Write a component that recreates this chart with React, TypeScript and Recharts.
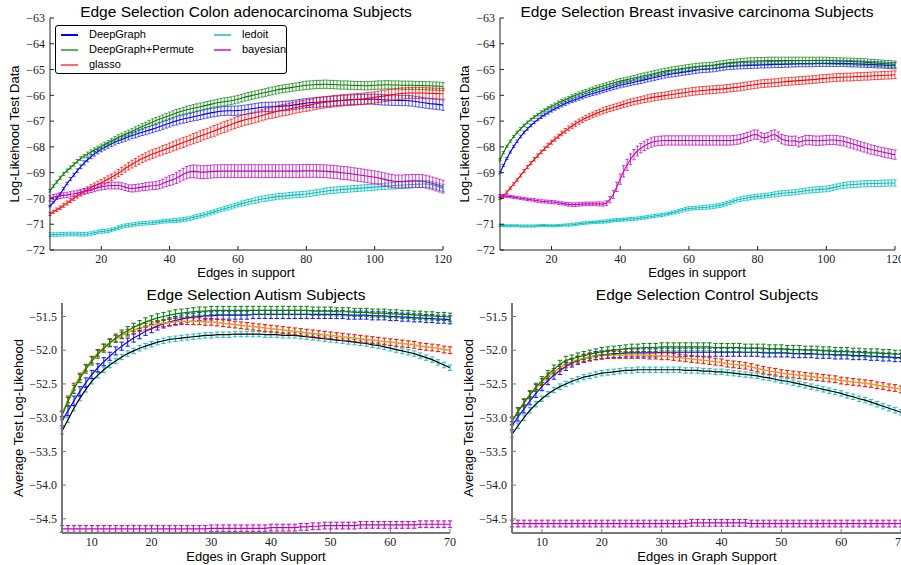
import React from 'react';
import { LineChart, Line, XAxis, YAxis, ErrorBar } from 'recharts';

// ---------- x categories ----------
const topX = [5,6,7,8,9,10,11,12,13,14,15,16,17,18,19,20,21,22,23,24,25,26,27,28,29,30,31,32,33,34,35,36,37,38,39,40,41,42,43,44,45,46,47,48,49,50,51,52,53,54,55,56,57,58,59,60,61,62,63,64,65,66,67,68,69,70,71,72,73,74,75,76,77,78,79,80,81,82,83,84,85,86,87,88,89,90,91,92,93,94,95,96,97,98,99,100,101,102,103,104,105,106,107,108,109,110,111,112,113,114,115,116,117,118,119,120];
const botX = [5,6,7,8,9,10,11,12,13,14,15,16,17,18,19,20,21,22,23,24,25,26,27,28,29,30,31,32,33,34,35,36,37,38,39,40,41,42,43,44,45,46,47,48,49,50,51,52,53,54,55,56,57,58,59,60,61,62,63,64,65,66,67,68,69,70];

const topXTicks = [20, 40, 60, 80, 100, 120];
const topYTicks = [-72, -71, -70, -69, -68, -67, -66, -65, -64, -63];
const botXTicks = [10, 20, 30, 40, 50, 60, 70];
const botYTicks = [-54.5, -54.0, -53.5, -53.0, -52.5, -52.0, -51.5];

const titles = ['Edge Selection Colon adenocarcinoma Subjects', 'Edge Selection Breast invasive carcinoma Subjects', 'Edge Selection Autism Subjects', 'Edge Selection Control Subjects'];
const legendNames = ['DeepGraph', 'DeepGraph+Permute', 'glasso', 'ledoit', 'bayesian'];

// ---------- Colon adenocarcinoma ----------
const colonBlue = [-70.30,-70.15,-70.00,-69.82,-69.62,-69.42,-69.25,-69.08,-68.92,-68.77,
-68.62,-68.50,-68.38,-68.27,-68.18,-68.10,-68.02,-67.95,-67.88,-67.82,
-67.76,-67.71,-67.66,-67.61,-67.56,-67.52,-67.47,-67.43,-67.39,-67.35,
-67.31,-67.27,-67.22,-67.17,-67.12,-67.08,-67.03,-66.99,-66.95,-66.92,
-66.89,-66.86,-66.83,-66.80,-66.77,-66.74,-66.71,-66.68,-66.66,-66.64,
-66.62,-66.61,-66.60,-66.60,-66.60,-66.59,-66.58,-66.56,-66.54,-66.52,
-66.50,-66.48,-66.46,-66.45,-66.45,-66.44,-66.44,-66.43,-66.42,-66.41,
-66.40,-66.38,-66.36,-66.34,-66.32,-66.30,-66.29,-66.28,-66.27,-66.26,
-66.25,-66.24,-66.23,-66.22,-66.21,-66.20,-66.19,-66.18,-66.17,-66.17,
-66.16,-66.16,-66.15,-66.15,-66.15,-66.15,-66.16,-66.17,-66.18,-66.18,
-66.19,-66.19,-66.20,-66.20,-66.20,-66.21,-66.22,-66.24,-66.26,-66.28,
-66.30,-66.32,-66.33,-66.34,-66.36,-66.38];
const colonBlueErr = [.03,.03,.04,.04,.05,.05,.06,.06,.07,.07,
.08,.08,.08,.09,.09,.09,.10,.10,.10,.11,
.11,.11,.12,.12,.12,.13,.13,.13,.14,.14,
.14,.14,.15,.15,.15,.15,.15,.16,.16,.16,
.16,.16,.16,.17,.17,.17,.17,.17,.17,.17,
.17,.17,.17,.18,.18,.18,.18,.18,.18,.18,
.18,.18,.18,.18,.18,.18,.18,.18,.18,.18,
.18,.18,.18,.18,.18,.18,.18,.18,.19,.19,
.19,.19,.19,.19,.19,.19,.19,.19,.19,.19,
.19,.19,.19,.19,.19,.20,.20,.20,.20,.20,
.20,.20,.20,.20,.20,.20,.20,.20,.20,.20,
.20,.20,.20,.20,.20,.20];
const colonGreen = [-69.70,-69.52,-69.36,-69.20,-69.05,-68.92,-68.80,-68.68,-68.56,-68.45,
-68.36,-68.28,-68.20,-68.12,-68.05,-67.98,-67.91,-67.84,-67.77,-67.70,
-67.63,-67.57,-67.51,-67.45,-67.39,-67.33,-67.27,-67.21,-67.15,-67.09,
-67.03,-66.98,-66.93,-66.88,-66.83,-66.78,-66.73,-66.68,-66.64,-66.60,
-66.56,-66.53,-66.50,-66.47,-66.44,-66.41,-66.38,-66.35,-66.32,-66.29,
-66.27,-66.25,-66.23,-66.21,-66.18,-66.15,-66.11,-66.07,-66.04,-66.01,
-65.98,-65.95,-65.92,-65.89,-65.86,-65.83,-65.80,-65.77,-65.75,-65.73,
-65.71,-65.69,-65.67,-65.65,-65.63,-65.61,-65.60,-65.59,-65.58,-65.58,
-65.57,-65.57,-65.58,-65.58,-65.59,-65.60,-65.60,-65.60,-65.61,-65.62,
-65.62,-65.62,-65.63,-65.63,-65.62,-65.61,-65.60,-65.60,-65.59,-65.59,
-65.60,-65.60,-65.60,-65.61,-65.61,-65.61,-65.61,-65.62,-65.62,-65.62,
-65.63,-65.63,-65.64,-65.64,-65.65,-65.66];
const colonGreenErr = [.05,.05,.05,.06,.06,.06,.06,.07,.07,.07,
.07,.08,.08,.08,.08,.09,.09,.09,.09,.10,
.10,.10,.10,.10,.11,.11,.11,.11,.11,.12,
.12,.12,.12,.12,.13,.13,.13,.13,.13,.13,
.14,.14,.14,.14,.14,.14,.14,.14,.14,.14,
.15,.15,.15,.15,.15,.15,.15,.15,.15,.15,
.15,.15,.15,.15,.15,.15,.15,.15,.15,.15,
.15,.15,.15,.15,.16,.16,.16,.16,.16,.16,
.16,.16,.16,.16,.16,.16,.16,.16,.16,.16,
.16,.16,.16,.16,.16,.16,.16,.16,.16,.16,
.16,.16,.16,.16,.16,.16,.16,.16,.16,.16,
.16,.16,.16,.16,.16,.16];
const colonRed = [-70.60,-70.52,-70.44,-70.36,-70.27,-70.18,-70.08,-69.99,-69.90,-69.81,
-69.72,-69.65,-69.58,-69.51,-69.45,-69.39,-69.32,-69.25,-69.18,-69.10,
-69.02,-68.93,-68.84,-68.75,-68.67,-68.60,-68.52,-68.45,-68.39,-68.33,
-68.28,-68.23,-68.18,-68.13,-68.08,-68.03,-67.98,-67.93,-67.88,-67.83,
-67.78,-67.73,-67.68,-67.63,-67.58,-67.53,-67.48,-67.43,-67.38,-67.33,
-67.28,-67.23,-67.18,-67.13,-67.08,-67.03,-66.99,-66.95,-66.92,-66.89,
-66.86,-66.82,-66.78,-66.74,-66.70,-66.67,-66.64,-66.61,-66.58,-66.56,
-66.53,-66.50,-66.47,-66.44,-66.42,-66.40,-66.38,-66.35,-66.32,-66.30,
-66.28,-66.26,-66.25,-66.23,-66.22,-66.20,-66.19,-66.18,-66.17,-66.16,
-66.15,-66.14,-66.13,-66.11,-66.10,-66.08,-66.06,-66.04,-66.02,-66.00,
-65.98,-65.96,-65.94,-65.93,-65.92,-65.91,-65.91,-65.91,-65.91,-65.91,
-65.92,-65.92,-65.93,-65.93,-65.94,-65.94];
const colonRedErr = [.06,.06,.07,.07,.08,.08,.08,.09,.09,.10,
.10,.10,.11,.11,.12,.12,.12,.13,.13,.13,
.14,.14,.14,.15,.15,.15,.16,.16,.16,.17,
.17,.17,.17,.18,.18,.18,.18,.19,.19,.19,
.19,.19,.20,.20,.20,.20,.20,.20,.21,.21,
.21,.21,.21,.21,.21,.21,.21,.21,.21,.21,
.21,.21,.21,.21,.21,.22,.22,.22,.22,.22,
.22,.22,.22,.22,.22,.22,.22,.22,.22,.22,
.22,.22,.22,.22,.22,.22,.22,.22,.22,.22,
.22,.22,.22,.22,.22,.22,.22,.22,.22,.22,
.22,.22,.22,.22,.21,.21,.21,.21,.21,.21,
.21,.21,.21,.21,.21,.21];
const colonCyan = [-71.40,-71.40,-71.40,-71.39,-71.39,-71.38,-71.38,-71.38,-71.38,-71.39,
-71.39,-71.38,-71.36,-71.33,-71.30,-71.28,-71.27,-71.25,-71.22,-71.18,
-71.13,-71.09,-71.06,-71.04,-71.02,-71.00,-70.98,-70.97,-70.96,-70.95,
-70.94,-70.93,-70.91,-70.89,-70.88,-70.87,-70.86,-70.85,-70.84,-70.82,
-70.80,-70.77,-70.73,-70.70,-70.67,-70.64,-70.60,-70.56,-70.52,-70.48,
-70.44,-70.40,-70.36,-70.32,-70.28,-70.24,-70.20,-70.17,-70.14,-70.11,
-70.08,-70.05,-70.02,-70.00,-69.98,-69.96,-69.94,-69.92,-69.91,-69.90,
-69.88,-69.87,-69.86,-69.85,-69.84,-69.83,-69.81,-69.79,-69.77,-69.75,
-69.73,-69.71,-69.69,-69.68,-69.67,-69.66,-69.65,-69.64,-69.63,-69.62,
-69.61,-69.60,-69.59,-69.58,-69.57,-69.56,-69.55,-69.54,-69.53,-69.52,
-69.51,-69.50,-69.49,-69.49,-69.48,-69.47,-69.46,-69.45,-69.45,-69.44,
-69.44,-69.45,-69.48,-69.52,-69.56,-69.60];
const colonCyanErr = [.07,.07,.07,.07,.07,.07,.07,.07,.07,.07,
.07,.07,.07,.07,.07,.07,.07,.07,.07,.07,
.07,.07,.07,.07,.07,.07,.07,.07,.07,.07,
.07,.07,.07,.07,.07,.07,.08,.08,.08,.08,
.08,.08,.08,.08,.08,.08,.08,.08,.08,.08,
.08,.08,.09,.09,.09,.09,.10,.10,.10,.10,
.11,.11,.11,.11,.11,.11,.11,.11,.11,.11,
.11,.11,.11,.11,.11,.11,.11,.11,.11,.11,
.12,.12,.12,.12,.12,.12,.12,.12,.12,.12,
.12,.12,.12,.12,.12,.12,.12,.12,.12,.12,
.13,.13,.13,.13,.13,.13,.13,.13,.13,.13,
.13,.13,.13,.13,.13,.13];
const colonMag = [-70.00,-69.95,-69.92,-69.90,-69.88,-69.86,-69.84,-69.82,-69.79,-69.76,
-69.73,-69.70,-69.66,-69.62,-69.58,-69.55,-69.53,-69.51,-69.50,-69.50,
-69.50,-69.52,-69.56,-69.60,-69.61,-69.60,-69.58,-69.56,-69.54,-69.52,
-69.51,-69.50,-69.47,-69.42,-69.36,-69.31,-69.27,-69.21,-69.14,-69.06,
-69.00,-68.96,-68.95,-68.96,-68.98,-68.98,-68.97,-68.96,-68.95,-68.95,
-68.94,-68.94,-68.94,-68.94,-68.94,-68.94,-68.94,-68.94,-68.94,-68.94,
-68.94,-68.94,-68.94,-68.94,-68.94,-68.94,-68.94,-68.94,-68.94,-68.94,
-68.94,-68.94,-68.94,-68.94,-68.93,-68.93,-68.93,-68.93,-68.93,-68.94,
-68.94,-68.95,-68.96,-68.97,-68.98,-69.00,-69.01,-69.02,-69.04,-69.06,
-69.08,-69.10,-69.12,-69.14,-69.16,-69.18,-69.20,-69.23,-69.26,-69.30,
-69.32,-69.34,-69.34,-69.34,-69.33,-69.33,-69.32,-69.32,-69.32,-69.33,
-69.35,-69.38,-69.42,-69.46,-69.50,-69.54];
const colonMagErr = [.10,.10,.10,.10,.10,.10,.10,.11,.11,.11,
.11,.11,.11,.12,.12,.12,.12,.12,.13,.13,
.13,.13,.13,.13,.14,.14,.14,.14,.15,.15,
.15,.15,.16,.17,.18,.19,.20,.21,.22,.23,
.24,.24,.25,.25,.25,.25,.25,.25,.25,.25,
.25,.25,.25,.25,.25,.25,.25,.25,.25,.25,
.25,.25,.25,.25,.25,.25,.25,.25,.25,.25,
.25,.25,.25,.25,.25,.25,.25,.25,.25,.25,
.25,.25,.25,.25,.25,.25,.25,.25,.25,.25,
.25,.25,.25,.25,.25,.25,.25,.25,.25,.25,
.25,.25,.25,.25,.25,.25,.25,.25,.25,.25,
.25,.25,.25,.25,.25,.25];

// ---------- Breast invasive carcinoma ----------
const breastBlue = [-69.00,-68.72,-68.45,-68.20,-67.98,-67.78,-67.60,-67.44,-67.30,-67.17,
-67.05,-66.94,-66.84,-66.75,-66.67,-66.59,-66.52,-66.45,-66.38,-66.32,
-66.26,-66.21,-66.16,-66.11,-66.06,-66.01,-65.97,-65.93,-65.89,-65.85,
-65.81,-65.77,-65.73,-65.69,-65.65,-65.61,-65.58,-65.55,-65.52,-65.49,
-65.46,-65.43,-65.40,-65.37,-65.34,-65.31,-65.28,-65.25,-65.22,-65.19,
-65.17,-65.15,-65.13,-65.11,-65.09,-65.07,-65.05,-65.03,-65.01,-65.00,
-64.99,-64.98,-64.97,-64.95,-64.93,-64.91,-64.89,-64.88,-64.87,-64.86,
-64.85,-64.85,-64.84,-64.84,-64.83,-64.83,-64.82,-64.82,-64.81,-64.81,
-64.80,-64.80,-64.80,-64.79,-64.79,-64.78,-64.78,-64.77,-64.77,-64.77,
-64.77,-64.77,-64.76,-64.76,-64.76,-64.76,-64.76,-64.76,-64.76,-64.76,
-64.76,-64.77,-64.77,-64.78,-64.78,-64.79,-64.79,-64.80,-64.80,-64.81,
-64.82,-64.82,-64.83,-64.84,-64.85,-64.85];
const breastBlueErr = [.04,.04,.04,.04,.04,.05,.05,.05,.05,.05,
.05,.05,.06,.06,.06,.06,.06,.07,.07,.07,
.07,.07,.07,.08,.08,.08,.08,.08,.09,.09,
.09,.09,.09,.09,.10,.10,.10,.10,.10,.10,
.11,.11,.11,.11,.11,.11,.11,.11,.11,.11,
.12,.12,.12,.12,.12,.12,.12,.12,.12,.12,
.12,.12,.12,.12,.12,.12,.12,.12,.12,.12,
.12,.12,.12,.12,.12,.12,.12,.12,.12,.12,
.12,.12,.12,.12,.12,.12,.12,.12,.12,.12,
.12,.12,.12,.12,.12,.12,.12,.12,.12,.12,
.12,.12,.12,.12,.12,.12,.12,.12,.12,.12,
.12,.12,.12,.12,.12,.12];
const breastGreen = [-68.50,-68.22,-67.98,-67.78,-67.60,-67.44,-67.30,-67.17,-67.05,-66.94,
-66.84,-66.75,-66.66,-66.58,-66.50,-66.43,-66.36,-66.29,-66.23,-66.17,
-66.11,-66.05,-66.00,-65.95,-65.90,-65.85,-65.80,-65.76,-65.72,-65.68,
-65.64,-65.60,-65.56,-65.52,-65.48,-65.45,-65.42,-65.39,-65.36,-65.33,
-65.30,-65.27,-65.24,-65.21,-65.18,-65.15,-65.12,-65.09,-65.06,-65.04,
-65.02,-65.00,-64.98,-64.96,-64.94,-64.92,-64.90,-64.88,-64.87,-64.86,
-64.85,-64.84,-64.83,-64.81,-64.79,-64.77,-64.75,-64.73,-64.72,-64.71,
-64.70,-64.69,-64.68,-64.67,-64.67,-64.66,-64.66,-64.66,-64.65,-64.65,
-64.65,-64.65,-64.65,-64.65,-64.65,-64.65,-64.65,-64.65,-64.65,-64.65,
-64.65,-64.65,-64.65,-64.65,-64.65,-64.65,-64.66,-64.66,-64.67,-64.67,
-64.68,-64.68,-64.69,-64.69,-64.70,-64.70,-64.71,-64.72,-64.73,-64.74,
-64.75,-64.76,-64.77,-64.78,-64.79,-64.80];
const breastGreenErr = [.04,.04,.04,.04,.04,.05,.05,.05,.05,.05,
.05,.05,.06,.06,.06,.06,.06,.07,.07,.07,
.07,.07,.07,.08,.08,.08,.08,.08,.09,.09,
.09,.09,.09,.09,.10,.10,.10,.10,.10,.10,
.11,.11,.11,.11,.11,.11,.11,.11,.11,.11,
.12,.12,.12,.12,.12,.12,.12,.12,.12,.12,
.12,.12,.12,.12,.12,.12,.12,.12,.12,.12,
.13,.13,.13,.13,.13,.13,.13,.13,.13,.13,
.13,.13,.13,.13,.13,.13,.13,.13,.13,.13,
.13,.13,.13,.13,.13,.13,.13,.13,.13,.13,
.13,.13,.13,.13,.13,.13,.13,.13,.13,.13,
.13,.13,.13,.13,.13,.13];
const breastRed = [-70.00,-69.90,-69.76,-69.60,-69.44,-69.28,-69.11,-68.94,-68.78,-68.63,
-68.48,-68.34,-68.20,-68.07,-67.94,-67.82,-67.70,-67.59,-67.48,-67.38,
-67.28,-67.19,-67.10,-67.02,-66.95,-66.88,-66.82,-66.76,-66.70,-66.65,
-66.60,-66.55,-66.51,-66.47,-66.43,-66.39,-66.35,-66.31,-66.27,-66.24,
-66.21,-66.18,-66.15,-66.12,-66.09,-66.07,-66.05,-66.03,-66.01,-65.99,
-65.97,-65.95,-65.93,-65.91,-65.89,-65.87,-65.85,-65.84,-65.82,-65.81,
-65.80,-65.79,-65.78,-65.77,-65.76,-65.75,-65.73,-65.72,-65.70,-65.69,
-65.67,-65.65,-65.63,-65.61,-65.59,-65.57,-65.55,-65.54,-65.53,-65.52,
-65.51,-65.50,-65.48,-65.47,-65.46,-65.45,-65.44,-65.43,-65.42,-65.41,
-65.40,-65.39,-65.38,-65.36,-65.35,-65.34,-65.33,-65.32,-65.31,-65.30,
-65.30,-65.29,-65.29,-65.28,-65.27,-65.27,-65.26,-65.26,-65.25,-65.24,
-65.24,-65.23,-65.22,-65.22,-65.21,-65.20];
const breastRedErr = [.04,.04,.05,.05,.05,.05,.06,.06,.06,.06,
.07,.07,.07,.07,.08,.08,.08,.08,.09,.09,
.09,.09,.10,.10,.10,.10,.11,.11,.11,.11,
.12,.12,.12,.12,.12,.12,.13,.13,.13,.13,
.13,.13,.13,.14,.14,.14,.14,.14,.14,.14,
.15,.15,.15,.15,.15,.15,.15,.15,.15,.15,
.15,.15,.15,.15,.15,.15,.15,.15,.15,.15,
.15,.15,.15,.15,.15,.15,.15,.15,.15,.15,
.15,.15,.15,.15,.15,.15,.15,.15,.15,.15,
.15,.15,.15,.15,.15,.15,.15,.15,.15,.15,
.15,.15,.15,.15,.15,.15,.15,.15,.15,.15,
.15,.15,.15,.15,.15,.15];
const breastCyan = [-71.05,-71.05,-71.06,-71.06,-71.06,-71.06,-71.07,-71.07,-71.07,-71.07,
-71.07,-71.06,-71.05,-71.05,-71.06,-71.06,-71.06,-71.05,-71.04,-71.03,
-71.03,-71.02,-71.00,-70.98,-70.96,-70.95,-70.94,-70.93,-70.92,-70.91,
-70.90,-70.89,-70.87,-70.85,-70.84,-70.83,-70.82,-70.81,-70.80,-70.79,
-70.78,-70.76,-70.74,-70.72,-70.70,-70.68,-70.66,-70.64,-70.62,-70.59,
-70.56,-70.53,-70.50,-70.46,-70.42,-70.39,-70.38,-70.37,-70.36,-70.35,
-70.34,-70.33,-70.31,-70.29,-70.27,-70.24,-70.20,-70.15,-70.10,-70.06,
-70.03,-70.00,-69.98,-69.96,-69.94,-69.92,-69.91,-69.90,-69.88,-69.86,
-69.84,-69.82,-69.80,-69.79,-69.78,-69.77,-69.76,-69.74,-69.72,-69.70,
-69.68,-69.67,-69.66,-69.65,-69.64,-69.63,-69.61,-69.58,-69.55,-69.52,
-69.50,-69.48,-69.47,-69.46,-69.45,-69.44,-69.43,-69.43,-69.42,-69.42,
-69.42,-69.41,-69.41,-69.40,-69.40,-69.40];
const breastCyanErr = [.04,.04,.04,.04,.04,.04,.04,.04,.04,.04,
.04,.04,.04,.04,.04,.04,.04,.04,.04,.04,
.05,.05,.05,.05,.05,.05,.05,.05,.05,.05,
.06,.06,.06,.06,.06,.06,.06,.06,.06,.06,
.06,.06,.06,.06,.06,.06,.06,.06,.06,.06,
.07,.07,.07,.07,.07,.07,.07,.07,.07,.07,
.08,.08,.08,.08,.08,.08,.08,.08,.08,.08,
.09,.09,.09,.09,.09,.09,.09,.09,.09,.09,
.10,.10,.10,.10,.10,.10,.10,.10,.10,.10,
.11,.11,.11,.11,.11,.11,.11,.11,.11,.11,
.12,.12,.12,.12,.12,.12,.12,.12,.12,.12,
.12,.12,.12,.12,.12,.12];
const breastMag = [-69.90,-69.90,-69.91,-69.93,-69.95,-69.97,-69.99,-70.01,-70.03,-70.05,
-70.07,-70.09,-70.11,-70.12,-70.13,-70.14,-70.15,-70.17,-70.19,-70.21,
-70.23,-70.24,-70.24,-70.23,-70.22,-70.21,-70.21,-70.21,-70.21,-70.21,
-70.22,-70.18,-70.05,-69.85,-69.55,-69.25,-68.95,-68.70,-68.48,-68.30,
-68.16,-68.05,-67.96,-67.89,-67.83,-67.79,-67.77,-67.76,-67.75,-67.75,
-67.75,-67.75,-67.75,-67.75,-67.75,-67.75,-67.75,-67.75,-67.75,-67.75,
-67.75,-67.75,-67.75,-67.75,-67.75,-67.75,-67.75,-67.75,-67.74,-67.72,
-67.70,-67.66,-67.62,-67.57,-67.52,-67.53,-67.62,-67.66,-67.62,-67.55,
-67.52,-67.60,-67.70,-67.74,-67.76,-67.77,-67.76,-67.82,-67.78,-67.74,
-67.74,-67.75,-67.76,-67.76,-67.75,-67.74,-67.73,-67.73,-67.74,-67.76,
-67.78,-67.82,-67.86,-67.90,-67.94,-67.98,-68.02,-68.06,-68.10,-68.13,
-68.16,-68.19,-68.22,-68.25,-68.28,-68.30];
const breastMagErr = [.05,.05,.05,.05,.05,.05,.05,.05,.05,.05,
.06,.06,.06,.06,.06,.06,.06,.06,.06,.06,
.07,.07,.07,.07,.07,.07,.07,.07,.07,.08,
.08,.09,.12,.15,.18,.20,.22,.22,.21,.20,
.19,.18,.18,.18,.18,.18,.18,.18,.18,.18,
.18,.18,.18,.18,.18,.18,.18,.18,.18,.18,
.18,.18,.18,.18,.18,.18,.18,.18,.18,.18,
.18,.18,.18,.18,.18,.18,.18,.18,.18,.18,
.18,.18,.18,.18,.18,.18,.18,.18,.18,.18,
.18,.18,.18,.18,.18,.18,.18,.18,.18,.18,
.18,.18,.18,.18,.18,.18,.18,.18,.18,.18,
.18,.18,.18,.18,.18,.18];

// ---------- Autism ----------
const autBlue = [-53.05,-52.90,-52.75,-52.61,-52.48,-52.36,-52.26,-52.17,-52.09,-52.01,
-51.94,-51.88,-51.82,-51.77,-51.72,-51.68,-51.64,-51.61,-51.58,-51.56,
-51.54,-51.52,-51.51,-51.50,-51.49,-51.49,-51.48,-51.48,-51.48,-51.48,
-51.48,-51.48,-51.47,-51.47,-51.47,-51.47,-51.47,-51.47,-51.47,-51.47,
-51.47,-51.47,-51.47,-51.47,-51.47,-51.47,-51.47,-51.47,-51.48,-51.48,
-51.48,-51.48,-51.49,-51.49,-51.49,-51.50,-51.50,-51.51,-51.51,-51.52,
-51.52,-51.53,-51.53,-51.54,-51.54,-51.55];
const autBlueErr = [.07,.07,.07,.07,.07,.06,.06,.06,.06,.06,
.06,.06,.06,.06,.06,.06,.06,.06,.06,.06,
.06,.06,.06,.06,.06,.06,.06,.06,.06,.06,
.06,.06,.06,.06,.06,.06,.06,.06,.06,.06,
.06,.06,.06,.06,.06,.06,.06,.06,.06,.06,
.06,.06,.06,.06,.06,.06,.06,.06,.06,.06,
.06,.06,.06,.06,.06,.06];
const autGreen = [-52.97,-52.76,-52.58,-52.42,-52.28,-52.16,-52.06,-51.97,-51.89,-51.82,
-51.76,-51.71,-51.66,-51.62,-51.58,-51.55,-51.52,-51.50,-51.48,-51.46,
-51.45,-51.44,-51.43,-51.42,-51.42,-51.41,-51.41,-51.41,-51.41,-51.41,
-51.41,-51.41,-51.41,-51.41,-51.41,-51.41,-51.41,-51.41,-51.41,-51.41,
-51.41,-51.41,-51.42,-51.42,-51.42,-51.42,-51.43,-51.43,-51.43,-51.44,
-51.44,-51.44,-51.45,-51.45,-51.45,-51.46,-51.46,-51.47,-51.47,-51.48,
-51.48,-51.49,-51.49,-51.50,-51.50,-51.51];
const autGreenErr = [.06,.06,.06,.06,.06,.06,.06,.06,.06,.06,
.06,.06,.06,.06,.06,.06,.06,.06,.06,.06,
.06,.06,.06,.06,.06,.06,.06,.06,.06,.06,
.06,.06,.06,.06,.06,.06,.06,.06,.06,.06,
.06,.06,.06,.06,.06,.06,.06,.06,.06,.06,
.06,.06,.06,.06,.06,.06,.06,.06,.06,.06,
.06,.06,.06,.06,.06,.06];
const autRed = [-52.95,-52.73,-52.54,-52.39,-52.26,-52.14,-52.04,-51.96,-51.89,-51.83,
-51.78,-51.74,-51.70,-51.67,-51.65,-51.63,-51.61,-51.60,-51.59,-51.58,
-51.57,-51.57,-51.57,-51.57,-51.58,-51.58,-51.59,-51.60,-51.61,-51.62,
-51.63,-51.64,-51.65,-51.66,-51.67,-51.68,-51.69,-51.70,-51.71,-51.72,
-51.73,-51.74,-51.75,-51.76,-51.77,-51.78,-51.79,-51.80,-51.81,-51.82,
-51.83,-51.84,-51.85,-51.86,-51.87,-51.88,-51.89,-51.90,-51.91,-51.92,
-51.94,-51.95,-51.96,-51.97,-51.99,-52.00];
const autRedErr = [.05,.05,.05,.05,.05,.05,.05,.05,.05,.05,
.05,.05,.05,.05,.05,.05,.05,.05,.05,.05,
.05,.05,.05,.05,.05,.05,.05,.05,.05,.05,
.05,.05,.05,.05,.05,.05,.05,.05,.05,.05,
.05,.05,.05,.05,.05,.05,.05,.05,.05,.05,
.05,.05,.05,.05,.05,.05,.05,.05,.05,.05,
.05,.05,.05,.05,.05,.05];
const autCyan = [-53.20,-53.03,-52.86,-52.71,-52.58,-52.46,-52.37,-52.29,-52.22,-52.16,
-52.10,-52.05,-52.01,-51.97,-51.94,-51.91,-51.88,-51.86,-51.84,-51.83,
-51.82,-51.81,-51.80,-51.79,-51.78,-51.78,-51.77,-51.77,-51.77,-51.76,
-51.76,-51.76,-51.76,-51.76,-51.77,-51.77,-51.77,-51.78,-51.78,-51.78,
-51.79,-51.80,-51.81,-51.82,-51.83,-51.84,-51.85,-51.86,-51.87,-51.88,
-51.89,-51.90,-51.92,-51.93,-51.95,-51.97,-51.99,-52.01,-52.03,-52.05,
-52.08,-52.11,-52.14,-52.18,-52.22,-52.26];
const autCyanErr = [.04,.04,.04,.04,.04,.04,.04,.04,.04,.04,
.04,.04,.04,.04,.04,.04,.04,.04,.04,.04,
.04,.04,.04,.04,.04,.04,.04,.04,.04,.04,
.04,.04,.04,.04,.04,.04,.04,.04,.04,.04,
.04,.04,.04,.04,.04,.04,.04,.04,.04,.04,
.04,.04,.04,.04,.04,.04,.04,.04,.04,.04,
.04,.04,.04,.04,.04,.04];
const autMag = [-54.65,-54.65,-54.65,-54.65,-54.65,-54.65,-54.65,-54.65,-54.65,-54.65,
-54.65,-54.65,-54.65,-54.65,-54.65,-54.65,-54.65,-54.65,-54.65,-54.65,
-54.65,-54.65,-54.65,-54.65,-54.65,-54.64,-54.64,-54.64,-54.64,-54.64,
-54.64,-54.64,-54.64,-54.64,-54.64,-54.63,-54.63,-54.63,-54.63,-54.63,
-54.62,-54.62,-54.61,-54.61,-54.60,-54.60,-54.60,-54.60,-54.60,-54.60,
-54.59,-54.59,-54.59,-54.59,-54.59,-54.59,-54.59,-54.59,-54.59,-54.59,
-54.58,-54.58,-54.58,-54.58,-54.58,-54.58];
const autMagErr = [.05,.05,.05,.05,.05,.05,.05,.05,.05,.05,
.05,.05,.05,.05,.05,.05,.05,.05,.05,.05,
.05,.05,.05,.05,.05,.05,.05,.05,.05,.05,
.05,.05,.05,.05,.05,.05,.05,.05,.05,.05,
.05,.05,.05,.05,.05,.05,.05,.05,.05,.05,
.05,.05,.05,.05,.05,.05,.05,.05,.05,.05,
.05,.05,.05,.05,.05,.05];

// ---------- Control ----------
const conBlue = [-53.12,-52.99,-52.87,-52.75,-52.64,-52.54,-52.45,-52.37,-52.30,-52.24,
-52.19,-52.15,-52.12,-52.10,-52.08,-52.07,-52.06,-52.05,-52.05,-52.04,
-52.04,-52.04,-52.04,-52.04,-52.04,-52.03,-52.03,-52.03,-52.03,-52.03,
-52.03,-52.03,-52.03,-52.03,-52.03,-52.03,-52.03,-52.03,-52.03,-52.03,
-52.03,-52.03,-52.04,-52.04,-52.04,-52.04,-52.04,-52.05,-52.05,-52.05,
-52.05,-52.06,-52.06,-52.06,-52.07,-52.07,-52.07,-52.08,-52.08,-52.08,
-52.09,-52.09,-52.10,-52.10,-52.11,-52.11];
const conBlueErr = [.06,.06,.06,.06,.06,.06,.06,.06,.06,.06,
.06,.06,.06,.06,.06,.06,.06,.06,.06,.06,
.06,.06,.06,.06,.06,.06,.06,.06,.06,.06,
.06,.06,.06,.06,.06,.06,.06,.06,.06,.06,
.06,.06,.06,.06,.06,.06,.06,.06,.06,.06,
.06,.06,.06,.06,.06,.06,.06,.06,.06,.06,
.06,.06,.06,.06,.06,.06];
const conGreen = [-53.05,-52.91,-52.78,-52.66,-52.55,-52.45,-52.36,-52.28,-52.21,-52.15,
-52.13,-52.10,-52.08,-52.06,-52.04,-52.02,-52.01,-52.00,-51.99,-51.98,
-51.97,-51.97,-51.96,-51.96,-51.96,-51.95,-51.95,-51.95,-51.95,-51.95,
-51.95,-51.95,-51.95,-51.95,-51.96,-51.96,-51.96,-51.96,-51.96,-51.97,
-51.97,-51.97,-51.97,-51.98,-51.98,-51.98,-51.99,-51.99,-51.99,-52.00,
-52.00,-52.00,-52.01,-52.01,-52.02,-52.02,-52.02,-52.03,-52.03,-52.04,
-52.04,-52.04,-52.05,-52.05,-52.06,-52.06];
const conGreenErr = [.06,.06,.06,.06,.06,.06,.06,.06,.06,.06,
.06,.06,.06,.06,.06,.06,.06,.06,.06,.06,
.06,.06,.06,.06,.06,.06,.06,.06,.06,.06,
.06,.06,.06,.06,.06,.06,.06,.06,.06,.06,
.06,.06,.06,.06,.06,.06,.06,.06,.06,.06,
.06,.06,.06,.06,.06,.06,.06,.06,.06,.06,
.06,.06,.06,.06,.06,.06];
const conRed = [-53.05,-52.91,-52.78,-52.66,-52.56,-52.47,-52.39,-52.32,-52.26,-52.21,
-52.17,-52.14,-52.12,-52.10,-52.09,-52.08,-52.07,-52.07,-52.07,-52.07,
-52.07,-52.07,-52.07,-52.08,-52.08,-52.09,-52.09,-52.10,-52.11,-52.12,
-52.13,-52.14,-52.15,-52.16,-52.17,-52.18,-52.20,-52.21,-52.22,-52.23,
-52.25,-52.27,-52.29,-52.31,-52.32,-52.34,-52.35,-52.36,-52.37,-52.38,
-52.39,-52.40,-52.41,-52.42,-52.43,-52.45,-52.46,-52.47,-52.48,-52.49,
-52.50,-52.52,-52.53,-52.55,-52.56,-52.58];
const conRedErr = [.05,.05,.05,.05,.05,.05,.05,.05,.05,.05,
.05,.05,.05,.05,.05,.05,.05,.05,.05,.05,
.05,.05,.05,.05,.05,.05,.05,.05,.05,.05,
.05,.05,.05,.05,.05,.05,.05,.05,.05,.05,
.05,.05,.05,.05,.05,.05,.05,.05,.05,.05,
.05,.05,.05,.05,.05,.05,.05,.05,.05,.05,
.05,.05,.05,.05,.05,.05];
const conCyan = [-53.25,-53.12,-53.00,-52.89,-52.80,-52.72,-52.65,-52.59,-52.54,-52.50,
-52.46,-52.43,-52.40,-52.38,-52.36,-52.34,-52.33,-52.32,-52.31,-52.30,
-52.30,-52.29,-52.29,-52.29,-52.29,-52.29,-52.29,-52.29,-52.29,-52.30,
-52.30,-52.30,-52.31,-52.31,-52.32,-52.32,-52.33,-52.34,-52.35,-52.36,
-52.37,-52.38,-52.40,-52.41,-52.43,-52.45,-52.46,-52.48,-52.50,-52.52,
-52.54,-52.56,-52.58,-52.60,-52.62,-52.64,-52.67,-52.69,-52.72,-52.74,
-52.77,-52.80,-52.83,-52.86,-52.89,-52.92];
const conCyanErr = [.04,.04,.04,.04,.04,.04,.04,.04,.04,.04,
.04,.04,.04,.04,.04,.04,.04,.04,.04,.04,
.04,.04,.04,.04,.04,.04,.04,.04,.04,.04,
.04,.04,.04,.04,.04,.04,.04,.04,.04,.04,
.04,.04,.04,.04,.04,.04,.04,.04,.04,.04,
.04,.04,.04,.04,.04,.04,.04,.04,.04,.04,
.04,.04,.04,.04,.04,.04];
const conMag = [-54.57,-54.57,-54.57,-54.57,-54.57,-54.57,-54.57,-54.57,-54.57,-54.57,
-54.57,-54.57,-54.57,-54.57,-54.57,-54.57,-54.57,-54.57,-54.57,-54.57,
-54.57,-54.57,-54.57,-54.57,-54.57,-54.57,-54.57,-54.57,-54.57,-54.57,
-54.56,-54.56,-54.56,-54.56,-54.56,-54.56,-54.56,-54.56,-54.56,-54.56,
-54.57,-54.57,-54.57,-54.57,-54.57,-54.57,-54.57,-54.57,-54.57,-54.57,
-54.57,-54.57,-54.57,-54.57,-54.57,-54.57,-54.57,-54.57,-54.57,-54.57,
-54.57,-54.57,-54.57,-54.57,-54.57,-54.57];
const conMagErr = [.05,.05,.05,.05,.05,.05,.05,.05,.05,.05,
.05,.05,.05,.05,.05,.05,.05,.05,.05,.05,
.05,.05,.05,.05,.05,.05,.05,.05,.05,.05,
.05,.05,.05,.05,.05,.05,.05,.05,.05,.05,
.05,.05,.05,.05,.05,.05,.05,.05,.05,.05,
.05,.05,.05,.05,.05,.05,.05,.05,.05,.05,
.05,.05,.05,.05,.05,.05];

// ---------- rendering ----------
type Series = { key: string; vals: number[]; errs: number[]; line: string; bar: string; barOp: number; sw: number };

function buildRows(xs: number[], series: Series[]) {
  return xs.map((x, i) => {
    const row: Record<string, number> = { x };
    series.forEach((s) => {
      row[s.key] = s.vals[i];
      row[s.key + 'E'] = s.errs[i];
    });
    return row;
  });
}

const minus = (s: string) => s.replace('-', '\u2212');
const fmtInt = (v: number) => minus(String(v));
const fmt1 = (v: number) => minus(v.toFixed(1));

const SERIF = '"Liberation Serif", "DejaVu Serif", serif';
const SANS = '"Liberation Sans", Arial, sans-serif';

type PanelProps = {
  left: number; top: number; width: number; height: number;
  mt: number; mr: number; yw: number; xh: number;
  xs: number[]; xDomain: [number, number]; xTicks: number[];
  yDomain: [number, number]; yTicks: number[]; yFmt: (v: number) => string;
  series: Series[]; ax: string; aw: number; cap: number; barW: number;
};

function Panel(p: PanelProps) {
  const data = buildRows(p.xs, p.series);
  const tickStyle = { fontFamily: SERIF, fontSize: 12, fill: '#222' };
  const axLine = { stroke: p.ax, strokeWidth: p.aw };
  const tl = { stroke: p.ax, strokeWidth: 1 };
  return (
    <div style={{ position: 'absolute', left: p.left, top: p.top }}>
      <LineChart width={p.width} height={p.height} data={data}
        margin={{ top: p.mt, right: p.mr, bottom: 0, left: 0 }}>
        <XAxis dataKey="x" type="number" domain={p.xDomain} ticks={p.xTicks} allowDataOverflow
          height={p.xh} tickSize={-4} tickMargin={8} tick={tickStyle} axisLine={axLine} tickLine={tl}
          interval={0} tickFormatter={fmtInt} />
        <XAxis xAxisId="top" orientation="top" dataKey="x" type="number" domain={p.xDomain}
          ticks={p.xTicks} allowDataOverflow height={0} tickSize={-4} tickFormatter={() => ''}
          axisLine={axLine} tickLine={tl} interval={0} />
        <YAxis type="number" domain={p.yDomain} ticks={p.yTicks} allowDataOverflow width={p.yw}
          tickSize={-4} tickMargin={9} tick={tickStyle} tickFormatter={p.yFmt} axisLine={axLine}
          tickLine={tl} interval={0} />
        <YAxis yAxisId="right" orientation="right" type="number" domain={p.yDomain} ticks={p.yTicks}
          allowDataOverflow width={0} tickSize={-4} tickFormatter={() => ''} axisLine={axLine}
          tickLine={tl} interval={0} />
        {p.series.map((s) => (
          <Line key={s.key} dataKey={s.key} type="linear" stroke={s.line} strokeWidth={s.sw}
            dot={false} activeDot={false} isAnimationActive={false}>
            <ErrorBar dataKey={s.key + 'E'} width={p.cap} stroke={s.bar} strokeOpacity={s.barOp}
              strokeWidth={p.barW} isAnimationActive={false} />
          </Line>
        ))}
      </LineChart>
    </div>
  );
}

const BLUE = '#0000ff';
const GREEN = '#007f00';
const RED = '#ff0000';
const CYAN = '#00bfbf';
const MAG = '#bf00bf';
const ORANGE = '#daa520';

function topSeries(b: number[], be: number[], g: number[], ge: number[], r: number[], re: number[], c: number[], ce: number[], m: number[], me: number[]): Series[] {
  return [
    { key: 'b', vals: b, errs: be, line: BLUE, bar: BLUE, barOp: 0.65, sw: 1.1 },
    { key: 'g', vals: g, errs: ge, line: GREEN, bar: GREEN, barOp: 0.7, sw: 1.1 },
    { key: 'r', vals: r, errs: re, line: RED, bar: RED, barOp: 0.7, sw: 1.1 },
    { key: 'c', vals: c, errs: ce, line: CYAN, bar: CYAN, barOp: 0.8, sw: 1.1 },
    { key: 'm', vals: m, errs: me, line: MAG, bar: MAG, barOp: 0.75, sw: 1.1 },
  ];
}

function botSeries(b: number[], be: number[], g: number[], ge: number[], r: number[], re: number[], c: number[], ce: number[], m: number[], me: number[]): Series[] {
  return [
    { key: 'm', vals: m, errs: me, line: MAG, bar: MAG, barOp: 0.9, sw: 1.2 },
    { key: 'c', vals: c, errs: ce, line: '#000000', bar: CYAN, barOp: 0.85, sw: 1.2 },
    { key: 'b', vals: b, errs: be, line: BLUE, bar: BLUE, barOp: 0.85, sw: 1.2 },
    { key: 'r', vals: r, errs: re, line: ORANGE, bar: RED, barOp: 0.9, sw: 1.5 },
    { key: 'g', vals: g, errs: ge, line: GREEN, bar: GREEN, barOp: 0.9, sw: 1.2 },
  ];
}

const centered = (x: number, y: number, size: number, text: string, rotate = false) => (
  <div style={{
    position: 'absolute', left: x, top: y, transform: `translate(-50%, -50%)${rotate ? ' rotate(-90deg)' : ''}`,
    whiteSpace: 'nowrap', fontFamily: SANS, fontSize: size, color: '#000', lineHeight: 1,
  }}>{text}</div>
);

const legendColors = ['#0000ff', '#5fb35f', '#ff6b6b', '#4fd0d0', '#dc4fdc'];

export default function App() {
  const colon = topSeries(colonBlue, colonBlueErr, colonGreen, colonGreenErr, colonRed, colonRedErr, colonCyan, colonCyanErr, colonMag, colonMagErr);
  const breast = topSeries(breastBlue, breastBlueErr, breastGreen, breastGreenErr, breastRed, breastRedErr, breastCyan, breastCyanErr, breastMag, breastMagErr);
  const autism = botSeries(autBlue, autBlueErr, autGreen, autGreenErr, autRed, autRedErr, autCyan, autCyanErr, autMag, autMagErr);
  const control = botSeries(conBlue, conBlueErr, conGreen, conGreenErr, conRed, conRedErr, conCyan, conCyanErr, conMag, conMagErr);

  const legendPos = [
    { x: 5, y: 9 }, { x: 5, y: 24 }, { x: 5, y: 39 }, { x: 158, y: 9 }, { x: 158, y: 24 },
  ];

  return (
    <div style={{ position: 'absolute', left: 0, top: 0, width: 901, height: 565, overflow: 'hidden', background: '#fff' }}>
      <style>{'svg.recharts-surface { overflow: visible; } .recharts-wrapper { overflow: visible; }'}</style>
      <Panel left={0} top={0} width={450} height={280} mt={18} mr={7} yw={50} xh={30}
        xs={topX} xDomain={[5, 120]} xTicks={topXTicks} yDomain={[-72, -63]} yTicks={topYTicks}
        yFmt={fmtInt} series={colon} ax="#222" aw={1} cap={1.7} barW={1} />
      <Panel left={450} top={0} width={451} height={280} mt={18} mr={6} yw={50} xh={30}
        xs={topX} xDomain={[5, 120]} xTicks={topXTicks} yDomain={[-72, -63]} yTicks={topYTicks}
        yFmt={fmtInt} series={breast} ax="#222" aw={1} cap={1.7} barW={1} />
      <Panel left={0} top={280} width={455} height={285} mt={23} mr={5} yw={62} xh={32}
        xs={botX} xDomain={[5, 70]} xTicks={botXTicks} yDomain={[-54.71, -51.3]} yTicks={botYTicks}
        yFmt={fmt1} series={autism} ax="#777" aw={2} cap={2.2} barW={1.1} />
      <Panel left={450} top={280} width={456} height={285} mt={23} mr={5} yw={62} xh={32}
        xs={botX} xDomain={[5, 70]} xTicks={botXTicks} yDomain={[-54.71, -51.3]} yTicks={botYTicks}
        yFmt={fmt1} series={control} ax="#777" aw={2} cap={2.2} barW={1.1} />

      {centered(246, 12, 15.5, titles[0])}
      {centered(697, 12, 15.5, titles[1])}
      {centered(256, 295, 15.5, titles[2])}
      {centered(707, 295, 15.5, titles[3])}

      {centered(246, 272, 13, 'Edges in support')}
      {centered(697, 272, 13, 'Edges in support')}
      {centered(256, 556, 13, 'Edges in Graph Support')}
      {centered(707, 556, 13, 'Edges in Graph Support')}

      {centered(14, 134, 13, 'Log-Likehood Test Data', true)}
      {centered(464, 134, 13, 'Log-Likehood Test Data', true)}
      {centered(18, 418, 13, 'Average Test Log-Likehood', true)}
      {centered(468, 418, 13, 'Average Test Log-Likehood', true)}

      <div style={{
        position: 'absolute', left: 55, top: 25, width: 230, height: 47, border: '1px solid #000',
        borderRadius: 3, background: '#fff',
      }}>
        {legendNames.map((name, i) => (
          <React.Fragment key={name}>
            <div style={{ position: 'absolute', left: legendPos[i].x, top: legendPos[i].y - 1, width: 17, height: 1.5, background: legendColors[i] }} />
            <div style={{ position: 'absolute', left: legendPos[i].x + 28, top: legendPos[i].y - 7, fontFamily: SANS, fontSize: 11, lineHeight: '13px', whiteSpace: 'nowrap' }}>{name}</div>
          </React.Fragment>
        ))}
      </div>
    </div>
  );
}
